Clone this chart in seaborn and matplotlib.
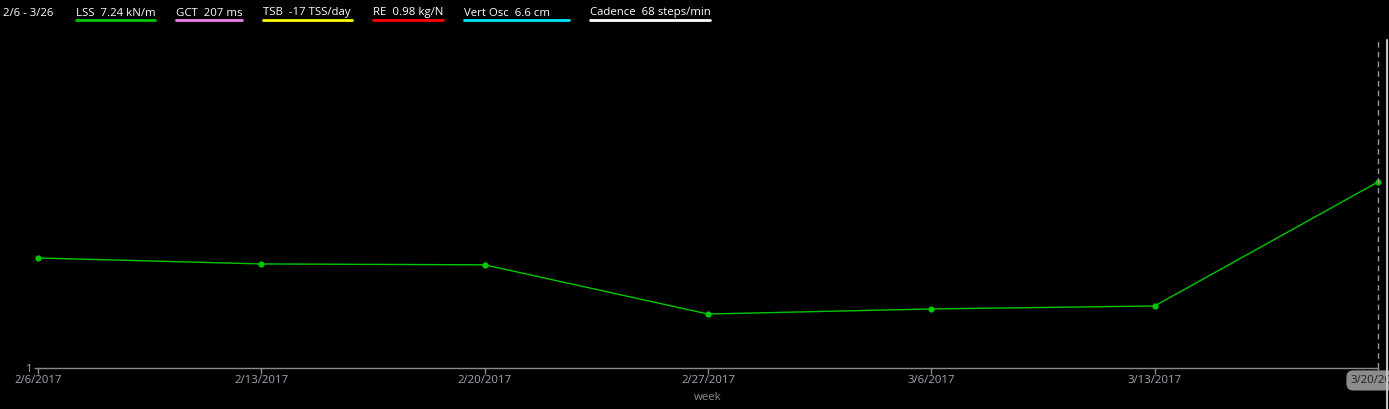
import pandas as pd
import matplotlib.pyplot as plt
import seaborn as sns

# weekly LSS values (kN/m)
weeks = ['2017-02-06', '2017-02-13', '2017-02-20', '2017-02-27',
         '2017-03-06', '2017-03-13', '2017-03-20']
lss = [4.69, 4.49, 4.46, 2.81, 2.98, 3.08, 7.24]

# header legend
header = '2/6 - 3/26'
legend_labels = ['LSS  7.24 kN/m', 'GCT  207 ms', 'TSB  -17 TSS/day',
                 'RE  0.98 kg/N', 'Vert Osc  6.6 cm', 'Cadence  68 steps/min']
legend_colors = ['#00c800', '#ee82ee', '#ffff00', '#ff0000', '#00e5ff', '#ffffff']
legend_x = [76, 176, 263, 373, 464, 590]
legend_w = [79, 66, 89, 70, 105, 120]

df = pd.DataFrame({'week': pd.to_datetime(weeks), 'LSS': lss})

sns.set_style('dark')
plt.rcParams['font.family'] = ['Open Sans', 'DejaVu Sans']

W, H = 1389, 409
fig = plt.figure(figsize=(W / 100, H / 100), dpi=100, facecolor='black')
ax = fig.add_axes([38 / W, 1 - 368 / H, 1340 / W, 328 / H])
ax.set_facecolor('black')

sns.lineplot(data=df, x='week', y='LSS', ax=ax, color='#00c800', linewidth=1,
             marker='o', markersize=4.5, markeredgewidth=0, clip_on=False)

ax.set_xlim(df['week'].iloc[0], df['week'].iloc[-1])
ax.set_ylim(1, 12)
ax.set_yticks([1])
ax.set_yticklabels(['1'])
ax.set_xticks(df['week'])
ax.set_xticklabels([f'{d.month}/{d.day}/{d.year}' for d in df['week']])
ax.tick_params(axis='x', colors='#8a8a8a', labelcolor='#a0a8b0', labelsize=8.2,
               length=4, width=1, pad=1, direction='out', bottom=True)
ax.tick_params(axis='y', colors='#8a8a8a', labelcolor='#a0a8b0', labelsize=8.2,
               length=3, width=1, pad=1, left=True)
last = ax.get_xticklabels()[-1]
last.set_color('#202020')
last.set_bbox(dict(boxstyle='round,pad=0.4,rounding_size=0.6',
                   fc='#8c8c8c', ec='none'))

ax.set_xlabel('week', color='#8a8a8a', fontsize=8.2, labelpad=4)
ax.set_ylabel('')
ax.grid(False)
for side in ['top', 'right', 'left']:
    ax.spines[side].set_visible(False)
ax.spines['bottom'].set_color('#8a8a8a')
ax.spines['bottom'].set_linewidth(1)

ax.axvline(df['week'].iloc[-1], color='#9a9a9a', linestyle=(0, (4, 3)),
           linewidth=1, clip_on=False)

# right edge line
fig.add_artist(plt.Line2D([1387 / W, 1387 / W], [0, 1 - 40 / H],
                          color='#c8c8c8', linewidth=1.5))

# header legend
fig.text(3 / W, 1 - 13 / H, header, color='white', fontsize=8.2, va='center')
for lab, col, x, w in zip(legend_labels, legend_colors, legend_x, legend_w):
    fig.text(x / W, 1 - 13 / H, lab, color='white', fontsize=8.2, va='center')
    fig.add_artist(plt.Line2D([x / W, (x + w) / W], [1 - 20 / H, 1 - 20 / H],
                              color=col, linewidth=2))

fig.savefig('out.png', dpi=100, facecolor='black')
